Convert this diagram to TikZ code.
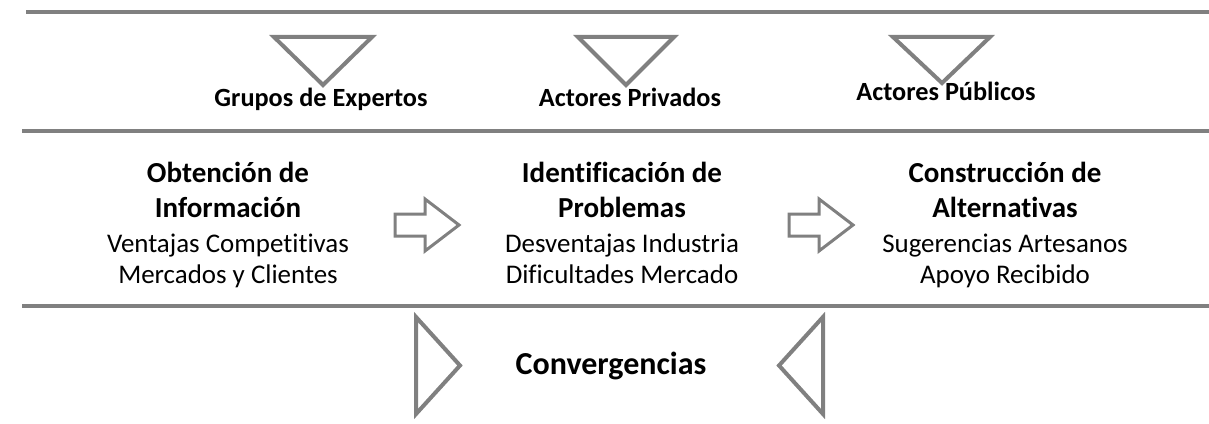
\documentclass[tikz,border=0pt]{standalone}
\usepackage{fontspec}
\setmainfont{Carlito}[Ligatures=NoCommon]
\usetikzlibrary{calc, positioning}

\begin{document}
\begin{tikzpicture}[x=0.75pt, y=-0.75pt,
					rule/.style={draw=gray, line width=3pt},
					tri/.style={draw=gray, line width=3pt, line join=miter},
					blockarrow/.style={draw=gray, line width=2.25pt, line join=miter},
					lbl/.style={font=\bfseries\fontsize{19.7}{24}\selectfont, anchor=base, inner sep=0pt},
					head/.style={font=\bfseries\fontsize{21.75}{26}\selectfont, anchor=base, inner sep=0pt},
					sub/.style={font=\fontsize{20.2}{24}\selectfont, anchor=base, inner sep=0pt}]

\useasboundingbox (0,0) rectangle (1209,424);

% rules
\draw[rule] (26,12) -- (1209,12);
\draw[rule] (22,131) -- (1209,131);
\draw[rule] (22,306) -- (1209,306);

% actors
\draw[tri] (274,37) -- (372,37) -- (323,85) -- cycle;
\draw[tri] (578,37) -- (674,37) -- (626,85) -- cycle;
\draw[tri] (893,37) -- (990,37) -- (942,83) -- cycle;
\node[lbl] (expertos) at (321,107) {Grupos de Expertos};
\node[lbl] (privados) at (630,107) {Actores Privados};
\node[lbl] (publicos) at (946,101) {Actores Públicos};

% stages
\node[head] (obt1) at (228,182) {Obtención de};
\node[head] (obt2) at (228,217) {Información};
\node[sub]  (obt3) at (228,252) {Ventajas Competitivas};
\node[sub]  (obt4) at (228,283) {Mercados y Clientes};

\node[head] (ide1) at (622,182) {Identificación de};
\node[head] (ide2) at (622,217) {Problemas};
\node[sub]  (ide3) at (622,252) {Desventajas Industria};
\node[sub]  (ide4) at (622,283) {Dificultades Mercado};

\node[head] (con1) at (1005,182) {Construcción de};
\node[head] (con2) at (1005,217) {Alternativas};
\node[sub]  (con3) at (1005,252) {Sugerencias Artesanos};
\node[sub]  (con4) at (1005,283) {Apoyo Recibido};

\draw[blockarrow] (395,214) -- (425,214) -- (425,199) -- (459,225)
	-- (425,251) -- (425,236) -- (395,236) -- cycle;
\draw[blockarrow] (789,214) -- (819,214) -- (819,199) -- (853,225)
	-- (819,251) -- (819,236) -- (789,236) -- cycle;

% convergence
\draw[tri] (416,317) -- (416,414) -- (460,365.5) -- cycle;
\draw[tri] (823,317) -- (823,414) -- (779,365.5) -- cycle;
\node[font=\bfseries\fontsize{24}{29}\selectfont, anchor=base, inner sep=0pt] (conv) at (611,374) {Convergencias};

\end{tikzpicture}
\end{document}
